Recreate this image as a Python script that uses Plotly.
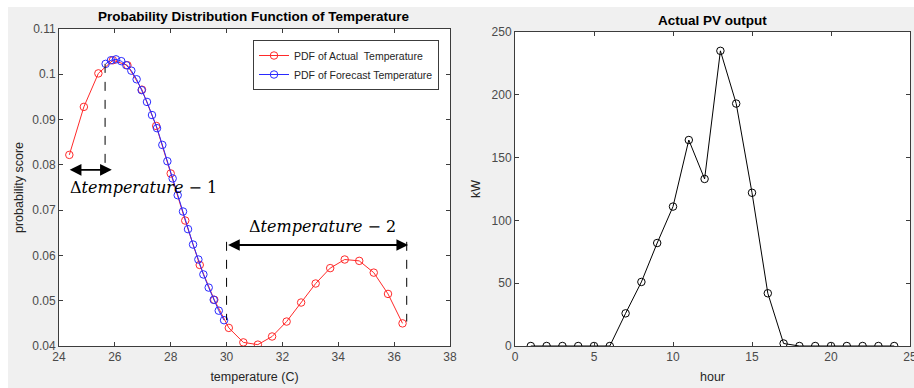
import plotly.graph_objects as go

# ---------------- data ----------------
actual_temp = [24.37, 24.89, 25.41, 25.93, 26.45, 26.97, 27.48, 28.00, 28.52, 29.04, 29.56, 30.08,
               30.60, 31.12, 31.63, 32.15, 32.67, 33.19, 33.71, 34.23, 34.75, 35.27, 35.78, 36.30]
actual_pdf = [0.0822, 0.0928, 0.1002, 0.1031, 0.1020, 0.0966, 0.0886, 0.0781, 0.0677, 0.0579, 0.0502, 0.0440,
              0.0408, 0.0403, 0.0421, 0.0454, 0.0496, 0.0538, 0.0572, 0.0591, 0.0588, 0.0562, 0.0515, 0.0450]

forecast_temp = [25.67, 25.86, 26.04, 26.23, 26.41, 26.59, 26.78, 26.96, 27.15, 27.33, 27.51, 27.70,
                 27.88, 28.07, 28.25, 28.44, 28.62, 28.80, 28.99, 29.17, 29.36, 29.54, 29.72, 29.91]
forecast_pdf = [0.1023, 0.1031, 0.1033, 0.1029, 0.1020, 0.1008, 0.0989, 0.0965, 0.0939, 0.0910, 0.0881, 0.0844,
                0.0808, 0.0770, 0.0733, 0.0697, 0.0658, 0.0624, 0.0591, 0.0558, 0.0529, 0.0502, 0.0478, 0.0457]

hours = [1, 2, 3, 4, 5, 6, 7, 8, 9, 10, 11, 12, 13, 14, 15, 16, 17, 18, 19, 20, 21, 22, 23, 24]
pv_kw = [0, 0, 0, 0, 0, 0, 26, 51, 82, 111, 164, 133, 235, 193, 122, 42, 2, 0, 0, 0, 0, 0, 0, 0]

left_yticks = [0.04, 0.05, 0.06, 0.07, 0.08, 0.09, 0.10, 0.11]
left_yticklabels = ["0.04", "0.05", "0.06", "0.07", "0.08", "0.09", "0.1", "0.11"]

# annotation geometry (data coordinates)
delta1_span = [24.33, 25.89]
delta1_level = 0.0789
delta1_dash_x = 25.65
delta1_dash_y = [0.1023, 0.0782]
delta2_span = [30.0, 36.5]
delta2_level = 0.0623
delta2_dash = [(30.0, 0.0630, 0.0457), (36.45, 0.0630, 0.0454)]

# ---------------- figure ----------------
W, H = 914, 388
def px(x):
    return x / W
def py(y):
    return (H - y) / H

AX = "#3c3c3c"
TK = "#4a4a4a"
FONT = "Liberation Sans, Arial, sans-serif"

fig = go.Figure()

fig.add_trace(go.Scatter(
    x=actual_temp, y=actual_pdf, mode="lines+markers",
    name="PDF of Actual&nbsp; Temperature",
    line=dict(color="#ff2a2a", width=1),
    marker=dict(symbol="circle-open", size=7.5, color="#ff2a2a", line=dict(width=1)),
    xaxis="x", yaxis="y"))
fig.add_trace(go.Scatter(
    x=forecast_temp, y=forecast_pdf, mode="lines+markers",
    name="PDF of Forecast Temperature",
    line=dict(color="#2a2aff", width=1),
    marker=dict(symbol="circle-open", size=7.5, color="#2a2aff", line=dict(width=1)),
    xaxis="x", yaxis="y"))
fig.add_trace(go.Scatter(
    x=hours, y=pv_kw, mode="lines+markers", showlegend=False,
    line=dict(color="black", width=1),
    marker=dict(symbol="circle-open", size=7.5, color="black", line=dict(width=1)),
    xaxis="x2", yaxis="y2"))

axis_common = dict(showline=True, linecolor=AX, linewidth=1, mirror="ticks",
                   ticks="inside", ticklen=4, tickcolor=AX, showgrid=False,
                   zeroline=False, automargin=False, ticklabeloverflow="allow",
                   tickfont=dict(family=FONT, size=12, color=TK),
                   title_font=dict(family=FONT, size=12.5, color="#262626"))

fig.update_layout(
    width=W, height=H,
    margin=dict(l=0, r=0, t=0, b=0, autoexpand=False),
    paper_bgcolor="#f0f0f0", plot_bgcolor="white",
    font=dict(family=FONT, color="#262626"),
    xaxis=dict(domain=[px(59), px(450)], range=[24, 38], dtick=2, anchor="y",
               title=dict(text="temperature (C)", standoff=8), **axis_common),
    yaxis=dict(domain=[py(346), py(29)], range=[0.04, 0.11], anchor="x",
               tickvals=left_yticks, ticktext=left_yticklabels,
               title=dict(text="probability score", standoff=5), **axis_common),
    xaxis2=dict(domain=[px(515), px(910)], range=[0, 25], dtick=5, anchor="y2",
                title=dict(text="hour", standoff=8), **axis_common),
    yaxis2=dict(domain=[py(346), py(32)], range=[0, 250], dtick=50, anchor="x2",
                title=dict(text="kW", standoff=8), **axis_common),
    legend=dict(x=px(439), y=py(40), xanchor="right", yanchor="top",
                bgcolor="white", bordercolor=AX, borderwidth=1,
                font=dict(family=FONT, size=10.5, color="#262626"),
                tracegroupgap=0, itemwidth=30),
    showlegend=True,
)

shapes = [
    dict(type="rect", xref="paper", yref="paper", x0=0, x1=px(8), y0=0, y1=1,
         fillcolor="white", line=dict(width=0), layer="below"),
    dict(type="rect", xref="paper", yref="paper", x0=0, x1=1, y0=py(7), y1=1,
         fillcolor="white", line=dict(width=0), layer="below"),
    dict(type="line", xref="x", yref="y", x0=delta1_dash_x, x1=delta1_dash_x,
         y0=delta1_dash_y[0], y1=delta1_dash_y[1], line=dict(color="black", width=1, dash="dash")),
]
for xd, y0, y1 in delta2_dash:
    shapes.append(dict(type="line", xref="x", yref="y", x0=xd, x1=xd, y0=y0, y1=y1,
                       line=dict(color="black", width=1, dash="dash")))
fig.update_layout(shapes=shapes)

annotations = [
    dict(text="<b>Probability Distribution Function of Temperature</b>", xref="paper", yref="paper",
         x=px(254), y=py(17), xanchor="center", yanchor="middle", showarrow=False,
         font=dict(family=FONT, size=13.5, color="black")),
    dict(text="<b>Actual PV output</b>", xref="paper", yref="paper",
         x=px(712), y=py(20), xanchor="center", yanchor="middle", showarrow=False,
         font=dict(family=FONT, size=13.5, color="black")),
    dict(text="Δ<i>temperature</i> − 1", xref="x", yref="y", x=27.03, y=0.0749, showarrow=False,
         font=dict(family="DejaVu Serif", size=16, color="black")),
    dict(text="Δ<i>temperature</i> − 2", xref="x", yref="y", x=33.45, y=0.0663, showarrow=False,
         font=dict(family="DejaVu Serif", size=16, color="black")),
    dict(text="", xref="x", yref="y", axref="x", ayref="y",
         x=delta1_span[1], y=delta1_level, ax=delta1_span[0], ay=delta1_level,
         showarrow=True, arrowside="end+start", arrowhead=2, arrowsize=1.3, arrowwidth=1.8,
         arrowcolor="black", standoff=0, startstandoff=0),
    dict(text="", xref="x", yref="y", axref="x", ayref="y",
         x=delta2_span[1], y=delta2_level, ax=delta2_span[0], ay=delta2_level,
         showarrow=True, arrowside="end+start", arrowhead=2, arrowsize=1.3, arrowwidth=1.8,
         arrowcolor="black", standoff=0, startstandoff=0),
]
fig.update_layout(annotations=annotations)

fig.write_html("out.html")
